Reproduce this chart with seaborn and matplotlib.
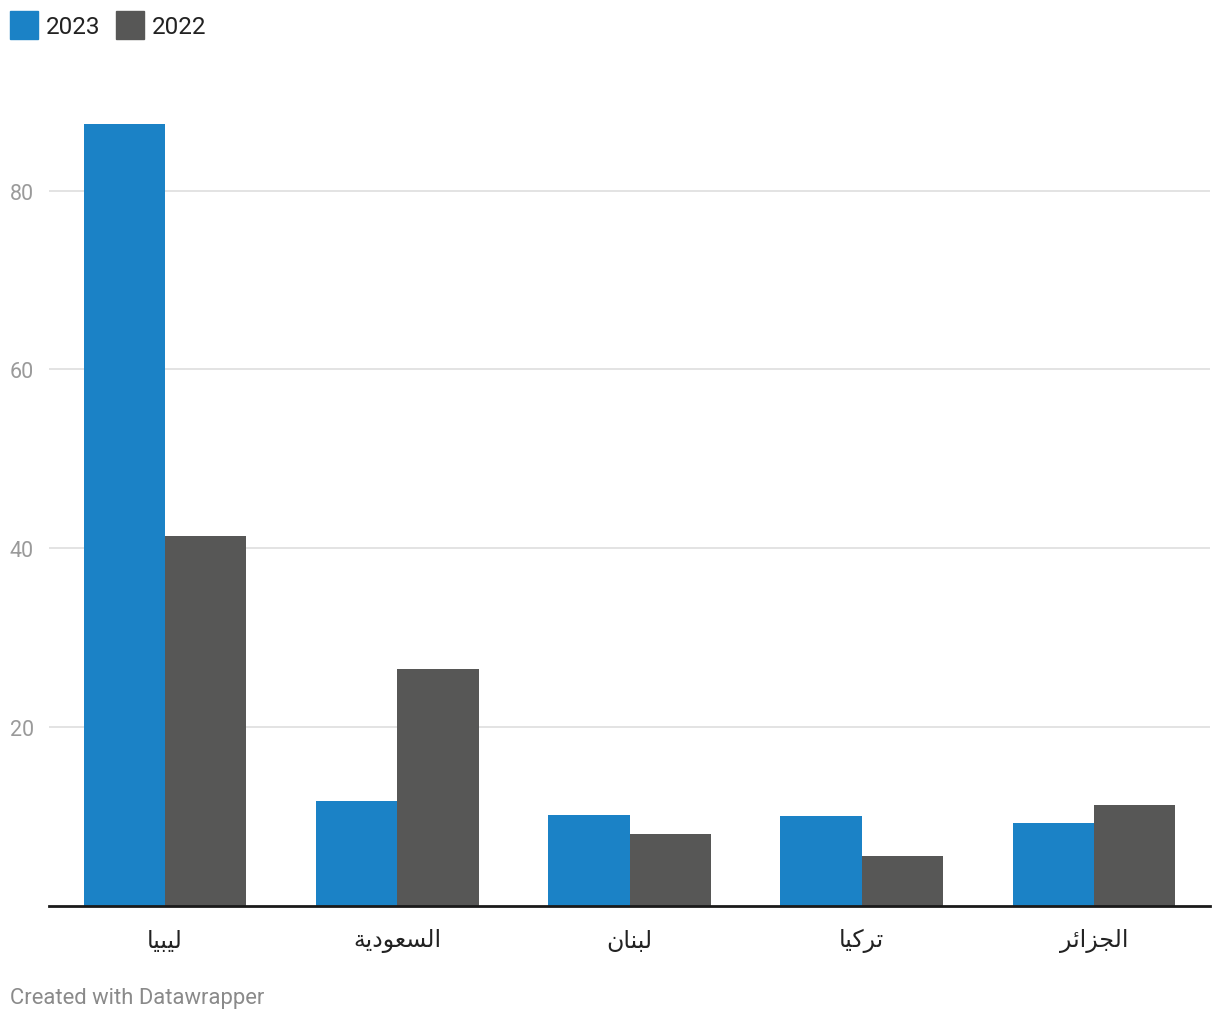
import matplotlib
matplotlib.use("Agg")
import matplotlib.pyplot as plt
import seaborn as sns
import pandas as pd
from matplotlib.patches import Rectangle

countries = ["ليبيا", "السعودية", "لبنان", "تركيا", "الجزائر"]
values_2023 = [87.5, 11.7, 10.1, 10.0, 9.2]
values_2022 = [41.3, 26.5, 8.0, 5.5, 11.3]
series = ["2023", "2022"]
colors = ["#1b82c6", "#575756"]
y_ticks = [20, 40, 60, 80]

# --- minimal Arabic shaping (matplotlib has no RTL shaping) ---
FORMS = {  # iso, fin, ini, med
    "ا": (0xFE8D, 0xFE8E, None, None),
    "ب": (0xFE8F, 0xFE90, 0xFE91, 0xFE92),
    "ة": (0xFE93, 0xFE94, None, None),
    "ت": (0xFE95, 0xFE96, 0xFE97, 0xFE98),
    "ج": (0xFE9D, 0xFE9E, 0xFE9F, 0xFEA0),
    "د": (0xFEA9, 0xFEAA, None, None),
    "ر": (0xFEAD, 0xFEAE, None, None),
    "ز": (0xFEAF, 0xFEB0, None, None),
    "س": (0xFEB1, 0xFEB2, 0xFEB3, 0xFEB4),
    "ع": (0xFEC9, 0xFECA, 0xFECB, 0xFECC),
    "ك": (0xFED9, 0xFEDA, 0xFEDB, 0xFEDC),
    "ل": (0xFEDD, 0xFEDE, 0xFEDF, 0xFEE0),
    "ن": (0xFEE5, 0xFEE6, 0xFEE7, 0xFEE8),
    "و": (0xFEED, 0xFEEE, None, None),
    "ي": (0xFEF1, 0xFEF2, 0xFEF3, 0xFEF4),
    "ئ": (0xFE89, 0xFE8A, 0xFE8B, 0xFE8C),
}


def shape(word):
    out = []
    n = len(word)
    for i, ch in enumerate(word):
        f = FORMS.get(ch)
        if f is None:
            out.append(ch)
            continue
        prev = word[i - 1] if i > 0 else None
        nxt = word[i + 1] if i < n - 1 else None
        jp = prev is not None and prev in FORMS and FORMS[prev][2] is not None
        jn = f[2] is not None and nxt is not None and nxt in FORMS
        if jp and jn:
            code = f[3]
        elif jp:
            code = f[1]
        elif jn:
            code = f[2]
        else:
            code = f[0]
        out.append(chr(code))
    return "".join(reversed(out))


df = pd.DataFrame({
    "country": countries * 2,
    "year": [series[0]] * len(countries) + [series[1]] * len(countries),
    "value": values_2023 + values_2022,
})

sns.set_theme(style="white")
plt.rcParams["font.family"] = ["Roboto", "DejaVu Sans"]

fig = plt.figure(figsize=(12.2, 10.2), dpi=100)
W, H = 1220, 1020
ax = fig.add_axes([49 / W, 1 - 906.5 / H, 1161 / W, 806 / H])

sns.barplot(data=df, x="country", y="value", hue="year", hue_order=series,
            palette=colors, width=0.7, saturation=1, ax=ax, legend=False,
            linewidth=0, errorbar=None)

ax.set_xlim(-0.5, len(countries) - 0.5)
ax.set_ylim(0, 90.2)
ax.set_yticks(y_ticks)
ax.yaxis.grid(True, color="#e0e0e0", linewidth=1.3)
ax.set_axisbelow(True)
for s in ["top", "right", "left"]:
    ax.spines[s].set_visible(False)
ax.spines["bottom"].set_color("#1a1a1a")
ax.spines["bottom"].set_linewidth(2)
ax.set_xlabel("")
ax.set_ylabel("")
ax.tick_params(axis="y", length=0, pad=0, labelsize=15.5, labelcolor="#9a9a9a")
ax.tick_params(axis="x", length=0, pad=16)
ax.set_xticks(range(len(countries)))
ax.set_xticklabels([shape(c) for c in countries], fontsize=17,
                   color="#222222", family=["DejaVu Sans"])
for lbl in ax.get_yticklabels():
    lbl.set_horizontalalignment("left")
    lbl.set_x(-39 / 1161)

# legend
for i, (lab, col) in enumerate(zip(series, colors)):
    x0 = [10, 116][i]
    fig.patches.append(Rectangle((x0 / W, 1 - 40 / H), 28 / W, 28 / H,
                                 transform=fig.transFigure, color=col))
    fig.text((x0 + 36) / W, 1 - 27 / H, lab, fontsize=17.5, color="#222222",
             va="center", ha="left")

fig.text(10 / W, 1 - 999 / H, "Created with Datawrapper", fontsize=15.8,
         color="#8a8a8a", va="center", ha="left")

fig.savefig("out.png", dpi=100, facecolor="white")
